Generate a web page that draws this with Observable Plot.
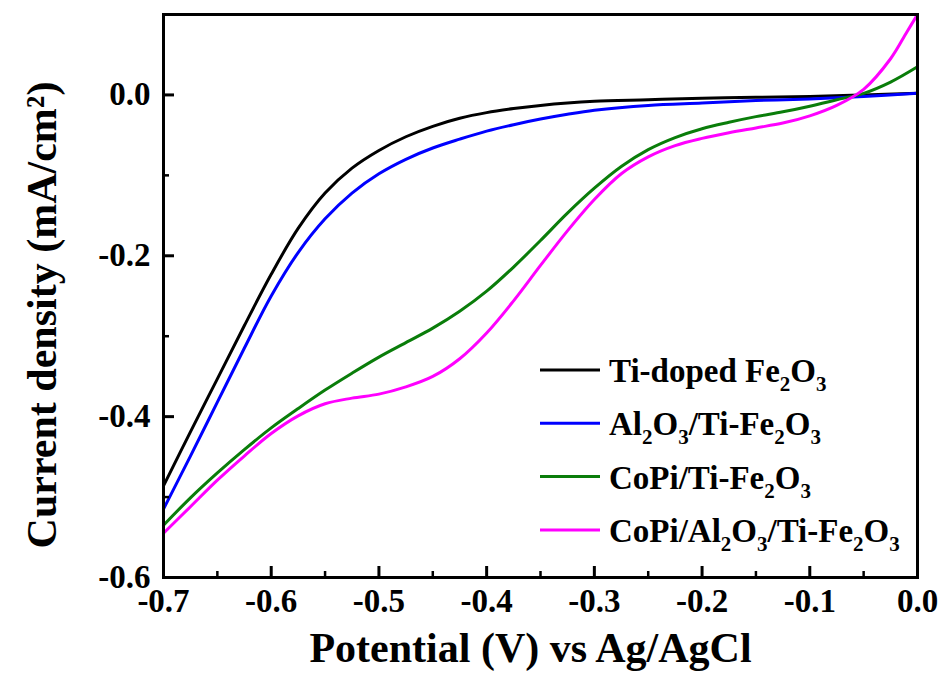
<!DOCTYPE html>
<html>
<head>
<meta charset="utf-8">
<script src="https://cdn.jsdelivr.net/npm/d3@7"></script>
<script src="https://cdn.jsdelivr.net/npm/@observablehq/plot@0.6"></script>
<style>
  body { margin: 0; background: #fff; }
  #chart { width: 943px; height: 690px; }
  #chart svg text { font-weight: bold; }
</style>
</head>
<body>
<div id="chart"></div>
<script>
// ---- data ----
const seriesNames = ["Ti-doped Fe_2O_3", "Al_2O_3/Ti-Fe_2O_3", "CoPi/Ti-Fe_2O_3", "CoPi/Al_2O_3/Ti-Fe_2O_3"];
const seriesColors = ["#000000", "#0000ff", "#0a7d0a", "#ff00ff"];

const tiX = [-0.700, -0.675, -0.650, -0.625, -0.600, -0.575, -0.550, -0.525, -0.500, -0.475, -0.450, -0.425, -0.400, -0.375, -0.350, -0.325, -0.300, -0.250, -0.200, -0.150, -0.100, -0.050, 0.000];
const tiY = [-0.486, -0.419, -0.353, -0.287, -0.223, -0.166, -0.122, -0.091, -0.069, -0.052, -0.039, -0.029, -0.022, -0.017, -0.013, -0.010, -0.008, -0.006, -0.004, -0.003, -0.002, 0.000, 0.002];

const alX = [-0.700, -0.675, -0.650, -0.625, -0.600, -0.575, -0.550, -0.525, -0.500, -0.475, -0.450, -0.425, -0.400, -0.375, -0.350, -0.325, -0.300, -0.250, -0.200, -0.150, -0.100, -0.050, 0.000];
const alY = [-0.515, -0.449, -0.382, -0.315, -0.250, -0.196, -0.154, -0.122, -0.098, -0.080, -0.066, -0.055, -0.045, -0.037, -0.030, -0.024, -0.019, -0.013, -0.010, -0.007, -0.005, -0.002, 0.002];

const copiX = [-0.700, -0.675, -0.650, -0.625, -0.600, -0.575, -0.550, -0.525, -0.500, -0.475, -0.450, -0.425, -0.400, -0.375, -0.350, -0.325, -0.300, -0.275, -0.250, -0.225, -0.200, -0.175, -0.150, -0.125, -0.100, -0.075, -0.050, -0.025, 0.000];
const copiY = [-0.535, -0.501, -0.470, -0.441, -0.414, -0.390, -0.367, -0.346, -0.326, -0.308, -0.290, -0.269, -0.244, -0.214, -0.181, -0.147, -0.116, -0.089, -0.068, -0.053, -0.042, -0.034, -0.027, -0.021, -0.014, -0.006, 0.002, 0.016, 0.035];

const copiAlX = [-0.700, -0.675, -0.650, -0.625, -0.600, -0.575, -0.550, -0.525, -0.500, -0.475, -0.450, -0.425, -0.400, -0.375, -0.350, -0.325, -0.300, -0.275, -0.250, -0.225, -0.200, -0.175, -0.150, -0.125, -0.100, -0.075, -0.050, -0.025, -0.010, 0.000];
const copiAlY = [-0.545, -0.512, -0.479, -0.449, -0.421, -0.399, -0.384, -0.377, -0.372, -0.363, -0.350, -0.328, -0.296, -0.256, -0.212, -0.169, -0.130, -0.098, -0.077, -0.063, -0.054, -0.047, -0.041, -0.035, -0.026, -0.013, 0.007, 0.045, 0.078, 0.100];

const xMajor = [-0.7, -0.6, -0.5, -0.4, -0.3, -0.2, -0.1, 0.0];
const xMinor = [-0.65, -0.55, -0.45, -0.35, -0.25, -0.15, -0.05];
const yMajor = [-0.6, -0.4, -0.2, 0.0];
const yMinor = [-0.5, -0.3, -0.1];
const xTitle = "Potential (V) vs Ag/AgCl";
const yTitle = "Current density (mA/cm\u00B2)";

// ---- table ----
const seriesXY = [[tiX, tiY], [alX, alY], [copiX, copiY], [copiAlX, copiAlY]];
const rows = [];
seriesXY.forEach(([xs, ys], i) => xs.forEach((x, j) => rows.push({series: seriesNames[i], x, y: ys[j]})));

// ---- layout ----
const W = 943, H = 690, mL = 163, mR = 26, mT = 14, mB = 113;
const innerW = W - mL - mR, innerH = H - mT - mB;
const font = "'Liberation Serif', 'Times New Roman', serif";
const fmt = d => d.toFixed(1);

const plot = Plot.plot({
  width: W, height: H,
  marginLeft: mL, marginRight: mR, marginTop: mT, marginBottom: mB,
  style: {fontFamily: font, background: "#fff", color: "#000", overflow: "visible"},
  x: {domain: [-0.7, 0]},
  y: {domain: [-0.6, 0.1]},
  color: {domain: seriesNames, range: seriesColors},
  marks: [
    Plot.line(rows, {x: "x", y: "y", z: "series", stroke: "series", strokeWidth: 3, curve: "catmull-rom"}),
    Plot.tickX(xMajor, {x: d => d, insetTop: innerH - 11, stroke: "#000", strokeWidth: 3}),
    Plot.tickX(xMinor, {x: d => d, insetTop: innerH - 6, stroke: "#000", strokeWidth: 2.5}),
    Plot.tickY(yMajor, {y: d => d, insetRight: innerW - 11, stroke: "#000", strokeWidth: 3}),
    Plot.tickY(yMinor, {y: d => d, insetRight: innerW - 6, stroke: "#000", strokeWidth: 2.5}),
    Plot.frame({stroke: "#000", strokeWidth: 3}),
    Plot.axisX({ticks: xMajor, tickSize: 0, tickPadding: 11, tickFormat: fmt, fontSize: 33, fontWeight: "bold", label: null}),
    Plot.axisY({ticks: yMajor, tickSize: 0, tickPadding: 13, tickFormat: fmt, fontSize: 33, fontWeight: "bold", label: null}),
    Plot.text([xTitle], {text: d => d, frameAnchor: "bottom", textAnchor: "middle", dx: -10, dy: 84, fontSize: 42, fontWeight: "bold"}),
    Plot.text([yTitle], {text: d => d, frameAnchor: "left", textAnchor: "middle", rotate: -90, dx: -121, dy: 19, fontSize: 42, fontWeight: "bold"})
  ]
});

// ---- legend (inside the frame, with subscripts) ----
const svg = d3.select(plot);
const legend = svg.append("g").attr("font-family", font).attr("font-weight", "bold").attr("text-anchor", "start");
const legX0 = 540, legX1 = 600, legTextX = 609, legY0 = 370, legStep = 53.3;
seriesNames.forEach((name, i) => {
  const y = legY0 + i * legStep;
  legend.append("line")
    .attr("x1", legX0).attr("x2", legX1).attr("y1", y).attr("y2", y)
    .attr("stroke", seriesColors[i]).attr("stroke-width", 3);
  const t = legend.append("text").attr("x", legTextX).attr("y", y + 12)
    .attr("font-size", 33).attr("fill", "#000").attr("text-anchor", "start");
  const parts = name.split(/(_\d)/).filter(s => s.length);
  let shifted = false;
  parts.forEach(p => {
    if (p.startsWith("_")) {
      t.append("tspan").attr("font-size", 21).attr("dy", shifted ? 0 : 9).text(p.slice(1));
      shifted = true;
    } else {
      t.append("tspan").attr("dy", shifted ? -9 : 0).text(p);
      shifted = false;
    }
  });
});

document.getElementById("chart").append(plot);
</script>
</body>
</html>
